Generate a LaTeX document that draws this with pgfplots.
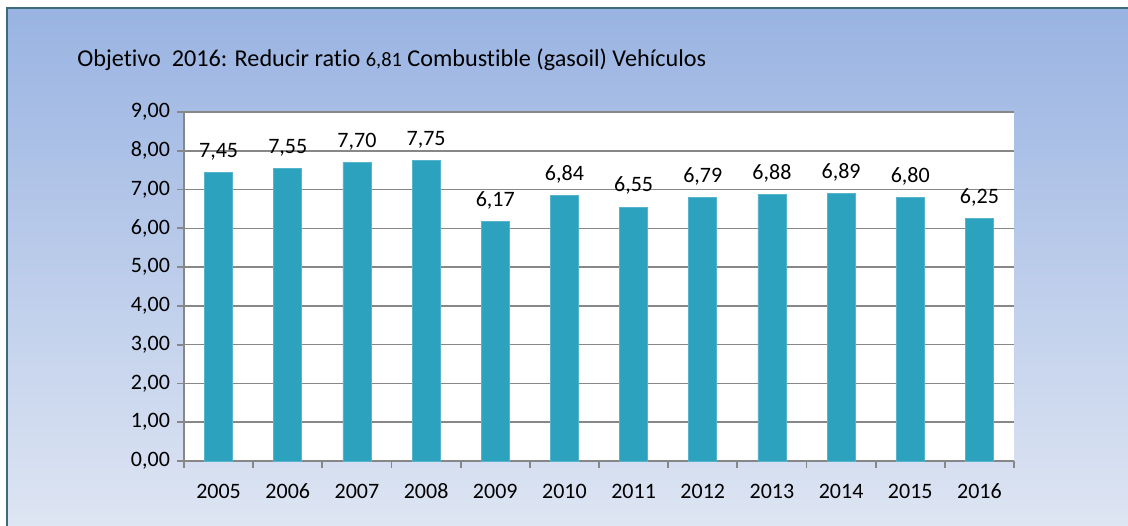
\documentclass[border=0pt]{standalone}
\usepackage{fontspec}
\setmainfont{Carlito}[Ligatures=NoCommon]
\usepackage{pgfplots}
\pgfplotsset{compat=1.18}
\definecolor{barc}{HTML}{2CA2BF}
\definecolor{bgtop}{HTML}{99B3E2}
\definecolor{bgbot}{HTML}{DFE6F3}
\definecolor{framec}{HTML}{3D6B7A}
\definecolor{gridc}{HTML}{878787}
\begin{document}
\begin{tikzpicture}[x=0.5pt,y=0.5pt]
\useasboundingbox (0,0) rectangle (1128,525);
\begin{scope}
\clip (0,0) rectangle (1128,525);
\shade[top color=bgtop, bottom color=bgbot] (7,-10) rectangle (1140,517);
\draw[framec, line width=1pt] (7,-10) rectangle (1140,517);
\end{scope}
\node[anchor=base west, inner sep=0, font=\fontsize{12.1}{14}\selectfont] at (77,458) {Objetivo\ \ 2016: Reducir ratio {\fontsize{10.2}{12}\selectfont 6,81} Combustible (gasoil) Vehículos};
\begin{axis}[
  at={(92pt,32pt)}, anchor=south west,
  width=415pt, height=174.5pt, scale only axis,
  xmin=-0.5, xmax=11.5, ymin=0, ymax=9,
  ytick={0,1,...,9},
  xtick={0,1,2,3,4,5,6,7,8,9,10,11},
  xticklabels={2005,2006,2007,2008,2009,2010,2011,2012,2013,2014,2015,2016},
  minor xtick={-0.5,0.5,1.5,2.5,3.5,4.5,5.5,6.5,7.5,8.5,9.5,10.5,11.5},
  major x tick style={draw=none},
  xticklabel style={yshift=-4.5pt, text height=7.2pt, text depth=0pt},
  axis lines=left,
  axis line style={-, gridc, line width=1pt},
  tick align=outside,
  major tick length=3.5pt,
  minor tick length=3.5pt,
  tick style={gridc, line width=0.9pt},
  ymajorgrids,
  grid style={gridc, line width=0.75pt},
  axis background/.style={fill=white},
  ybar, bar width=14pt,
  nodes near coords,
  every node near coord/.append style={font=\fontsize{11}{13}\selectfont, black, yshift=2pt, text height=7.2pt, text depth=2pt},
  tick label style={font=\fontsize{11}{13}\selectfont, black},
  /pgf/number format/.cd, use comma, fixed, fixed zerofill, precision=2, assume math mode=true,
]
\addplot[fill=barc, draw=barc!80!white, line width=0.4pt] coordinates {
(0,7.45) (1,7.55) (2,7.70) (3,7.75) (4,6.17) (5,6.84)
(6,6.55) (7,6.79) (8,6.88) (9,6.89) (10,6.80) (11,6.25)};
\end{axis}
\end{tikzpicture}
\end{document}
